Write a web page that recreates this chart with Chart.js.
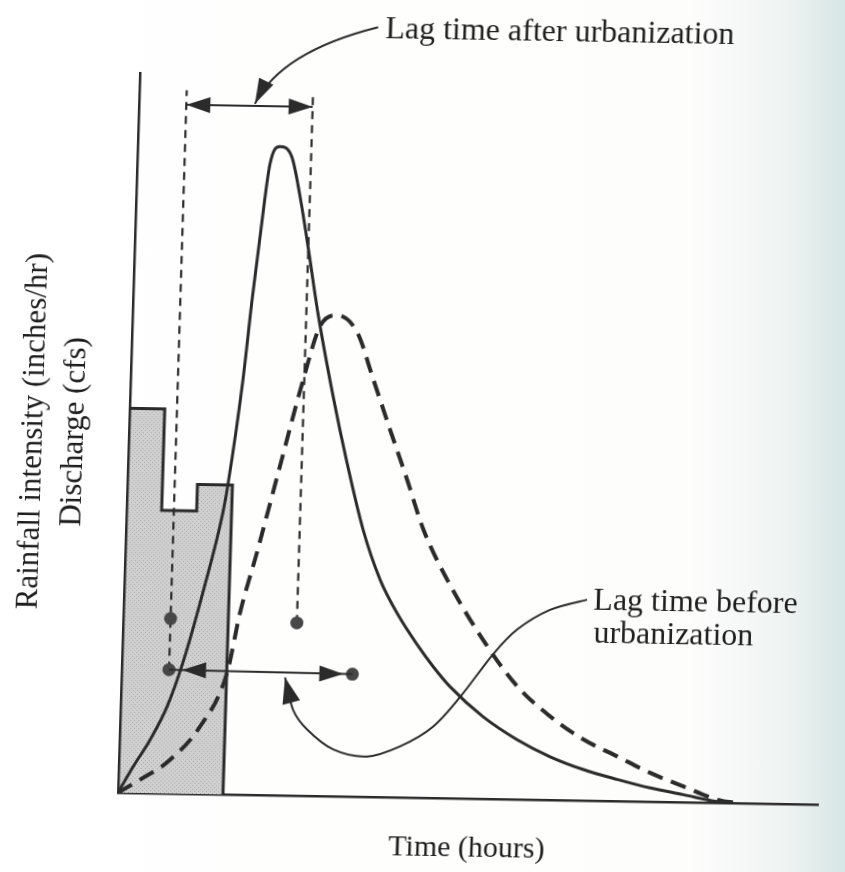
<!DOCTYPE html>
<html>
<head>
<meta charset="utf-8">
<script src="https://cdn.jsdelivr.net/npm/chart.js@4.4.1/dist/chart.umd.min.js"></script>
<style>
  html, body { margin: 0; padding: 0; }
  body {
    width: 845px;
    height: 872px;
    overflow: hidden;
    background: linear-gradient(to right, #ffffff 0px, #fdfdfc 690px, #eef3f2 790px, #d6e5e5 845px);
  }
  #hydrograph {
    display: block;
    /* the scanned page is a little skewed */
    transform-origin: 118px 793px;
    transform: matrix(1, 0.017, -0.0306, 1, 0, 0);
  }
</style>
</head>
<body>
<canvas id="hydrograph" width="845" height="872"></canvas>
<script>
// rainfall, one block per hour
const rainHours = [0, 1, 2];
const rainIntensity = [53.4, 39.3, 43.0];
const rainEndHour = 3;

// hydrograph after urbanization (solid line)
const afterHours = [0, 0.41, 0.87, 1.33, 1.74, 2.25, 2.75, 2.87, 3.21, 3.40, 3.59, 3.79, 4.06, 4.41, 4.68, 4.95, 5.29, 5.80, 6.25, 6.77, 7.30, 7.85, 8.41, 8.90, 9.39, 10.36, 11.35, 12.31, 13.27, 14.25, 15.2, 16.14, 17.12, 17.58];
const afterDischarge = [0, 3.65, 7.4, 12.1, 18.2, 28.0, 39.1, 43.0, 57.7, 68.8, 78.5, 87.6, 90.1, 88.7, 83.2, 76.3, 67.1, 55.5, 46.4, 37.1, 30.2, 25.3, 21.3, 18.2, 15.5, 11.4, 8.3, 6.0, 4.3, 3.0, 1.9, 1.06, 0.17, 0];

// hydrograph before urbanization (dashed line)
const beforeHours = [0, 0.70, 1.37, 2.29, 3.01, 3.33, 3.76, 4.34, 4.93, 5.36, 5.84, 6.43, 6.93, 7.45, 7.98, 8.49, 9.21, 10.29, 11.31, 12.28, 13.24, 14.23, 15.18, 16.14, 17.12, 17.7];
const beforeDischarge = [0, 2.1, 4.3, 9.4, 16.9, 25.3, 33.7, 45.7, 57.8, 65.2, 66.8, 64.5, 58.0, 51.1, 44.2, 37.3, 30.4, 22.1, 15.7, 11.6, 8.5, 6.2, 4.0, 2.2, 0.44, 0];

// lag times: rainfall centroid -> hydrograph centroids
const lagStartHour = 1.35;
const lagEndAfter = 4.96;
const lagEndBefore = 6.59;
const markerHours = [lagStartHour, lagStartHour, lagEndAfter, lagEndBefore];
const markerLevels = [24.3, 17.2, 24.0, 17.0];
const lagAfterLevel = 95.7;
const lagLineTop = 97.7;

// leader for "Lag time before urbanization"
const beforeLeaderHours = [13.23, 12.18, 11.26, 10.59, 9.69, 8.94, 8.02, 7.08, 6.11, 5.35, 4.93, 4.67];
const beforeLeaderLevels = [27.9, 26.4, 23.6, 20.1, 14.1, 9.9, 7.1, 5.6, 6.5, 9.2, 11.9, 16.4];

const ink = '#2b2b2b';
const serif = 'Liberation Serif';

const toPoints = (xs, ys) => xs.map((x, i) => ({ x: x, y: ys[i] }));

// rainfall outline: up the left edge, steps, down the right edge
const rainPoints = [{ x: rainHours[0], y: 0 }]
  .concat(toPoints(rainHours, rainIntensity))
  .concat([{ x: rainEndHour, y: rainIntensity[rainIntensity.length - 1] }, { x: rainEndHour, y: 0 }]);

// stippled grey like the printed figure
function stipple() {
  const c = document.createElement('canvas');
  c.width = 4; c.height = 4;
  const g = c.getContext('2d');
  g.fillStyle = '#d1d1d1';
  g.fillRect(0, 0, 4, 4);
  g.fillStyle = '#a6a6a6';
  g.fillRect(0, 0, 1, 1);
  g.fillRect(2, 2, 1, 1);
  return g.createPattern(c, 'repeat');
}

function arrowHead(ctx, tip, angle, len, half) {
  ctx.beginPath();
  ctx.moveTo(tip.x, tip.y);
  ctx.lineTo(tip.x - len * Math.cos(angle) - half * Math.sin(angle), tip.y - len * Math.sin(angle) + half * Math.cos(angle));
  ctx.lineTo(tip.x - len * Math.cos(angle) + half * Math.sin(angle), tip.y - len * Math.sin(angle) - half * Math.cos(angle));
  ctx.closePath();
  ctx.fill();
}

const annotations = {
  id: 'annotations',
  afterDatasetsDraw(chart) {
    const { ctx } = chart;
    const xs = chart.scales.x, ys = chart.scales.y;
    const px = (h, v) => ({ x: xs.getPixelForValue(h), y: ys.getPixelForValue(v) });

    ctx.save();
    ctx.strokeStyle = ink;
    ctx.fillStyle = ink;
    ctx.lineWidth = 2;

    // lag time after urbanization (top)
    const a1 = px(lagStartHour, lagAfterLevel), a2 = px(lagEndAfter, lagAfterLevel);
    ctx.beginPath(); ctx.moveTo(a1.x, a1.y); ctx.lineTo(a2.x, a2.y); ctx.stroke();
    arrowHead(ctx, a1, Math.PI, 24, 8);
    arrowHead(ctx, a2, 0, 24, 8);

    // lag time before urbanization (bottom)
    const b1 = px(markerHours[1], markerLevels[1]), b2 = px(markerHours[3], markerLevels[3]);
    ctx.beginPath(); ctx.moveTo(b1.x, b1.y); ctx.lineTo(b2.x, b2.y); ctx.stroke();
    arrowHead(ctx, { x: b1.x + 13, y: b1.y }, Math.PI, 24, 8);
    arrowHead(ctx, { x: b2.x - 9, y: b2.y }, 0, 24, 8);

    // leader to the top label
    const s = px(6.76, 106.9), c = px(4.01, 103.3), e = px(3.31, 96.0);
    ctx.beginPath(); ctx.moveTo(s.x, s.y); ctx.quadraticCurveTo(c.x, c.y, e.x, e.y); ctx.stroke();
    arrowHead(ctx, e, Math.atan2(e.y - c.y, e.x - c.x), 25, 8);

    // leader from the lower label, curving round to the bottom arrow
    const pts = beforeLeaderHours.map((h, i) => px(h, beforeLeaderLevels[i]));
    ctx.beginPath();
    ctx.moveTo(pts[0].x, pts[0].y);
    for (let i = 0; i < pts.length - 1; i++) {
      const p0 = pts[i - 1] || pts[i], p1 = pts[i], p2 = pts[i + 1], p3 = pts[i + 2] || pts[i + 1];
      ctx.bezierCurveTo(
        p1.x + (p2.x - p0.x) / 6, p1.y + (p2.y - p0.y) / 6,
        p2.x - (p3.x - p1.x) / 6, p2.y - (p3.y - p1.y) / 6,
        p2.x, p2.y);
    }
    ctx.stroke();
    const tip = pts[pts.length - 1], prev = pts[pts.length - 2];
    arrowHead(ctx, tip, Math.atan2(tip.y - prev.y, tip.x - prev.x), 26, 9);

    // labels
    ctx.font = '32px "' + serif + '"';
    ctx.textAlign = 'left';
    ctx.textBaseline = 'alphabetic';
    ctx.fillStyle = '#1e1e1e';
    let t = px(6.97, 105.4);
    ctx.fillText('Lag time after urbanization', t.x, t.y);
    t = px(13.41, 26.5);
    ctx.fillText('Lag time before', t.x, t.y);
    t = px(13.44, 22.0);
    ctx.fillText('urbanization', t.x, t.y);
    ctx.restore();
  }
};

const ctx = document.getElementById('hydrograph').getContext('2d');
const hydrograph = new Chart(ctx, {
  type: 'line',
  data: {
    datasets: [
      {
        // centroid markers
        data: toPoints(markerHours, markerLevels),
        showLine: false,
        pointRadius: 6.5,
        pointBackgroundColor: '#474747',
        pointBorderWidth: 0
      },
      {
        label: 'After urbanization',
        data: toPoints(afterHours, afterDischarge),
        borderColor: ink,
        borderWidth: 3,
        cubicInterpolationMode: 'monotone',
        pointRadius: 0,
        fill: false
      },
      {
        label: 'Before urbanization',
        data: toPoints(beforeHours, beforeDischarge),
        borderColor: ink,
        borderWidth: 4,
        borderDash: [16, 9],
        cubicInterpolationMode: 'monotone',
        pointRadius: 0,
        fill: false
      },
      {
        data: [{ x: lagStartHour, y: markerLevels[1] }, { x: lagStartHour, y: lagLineTop }],
        borderColor: ink,
        borderWidth: 2.2,
        borderDash: [8, 6],
        pointRadius: 0
      },
      {
        data: [{ x: lagEndAfter, y: markerLevels[2] }, { x: lagEndAfter, y: lagLineTop }],
        borderColor: ink,
        borderWidth: 2.2,
        borderDash: [8, 6],
        pointRadius: 0
      },
      {
        label: 'Rainfall',
        data: rainPoints,
        stepped: true,
        borderColor: ink,
        borderWidth: 3,
        backgroundColor: stipple(),
        fill: 'origin',
        pointRadius: 0
      }
    ]
  },
  options: {
    responsive: false,
    animation: false,
    events: [],
    layout: { padding: { top: 73, right: 27, left: 0, bottom: 0 } },
    plugins: {
      legend: { display: false },
      tooltip: { enabled: false }
    },
    scales: {
      x: {
        type: 'linear',
        min: 0,
        max: 20,
        grid: { display: false },
        border: { color: ink, width: 2.5 },
        ticks: { display: false },
        title: {
          display: true,
          text: 'Time (hours)',
          color: '#1e1e1e',
          font: { family: serif, size: 30, lineHeight: 1.37 },
          padding: { top: 0, bottom: 8 }
        },
        afterFit: function (scale) { scale.height = 79; }
      },
      y: {
        type: 'linear',
        min: 0,
        max: 100,
        grid: { display: false },
        border: { color: ink, width: 2.5 },
        ticks: { display: false },
        title: {
          display: true,
          text: ['Rainfall intensity (inches/hr)', 'Discharge (cfs)'],
          color: '#1e1e1e',
          font: { family: serif, size: 31, lineHeight: 1.33 },
          padding: { top: 2, bottom: 0 }
        },
        afterFit: function (scale) { scale.width = 118; }
      }
    }
  },
  plugins: [annotations]
});
</script>
</body>
</html>
